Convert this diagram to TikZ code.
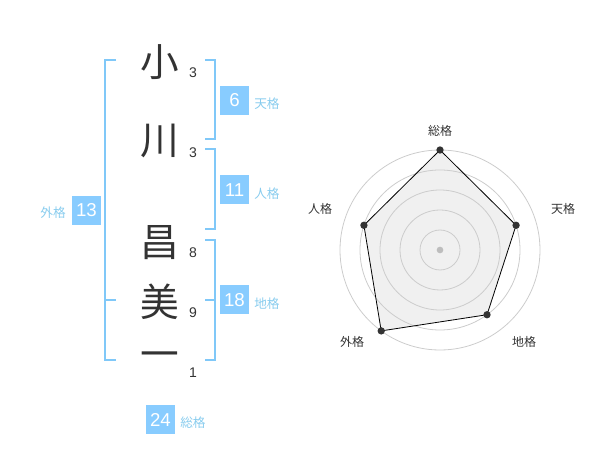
\documentclass[tikz,border=0pt]{standalone}
\usepackage{fontspec}
\usetikzlibrary{calc}
\setmainfont{Liberation Sans}
\newfontfamily\cjk{Noto Sans CJK JP}
\definecolor{brk}{HTML}{80C8F8}
\definecolor{boxc}{HTML}{88CCFF}
\definecolor{lbl}{HTML}{88CCEE}
\definecolor{ink}{HTML}{333333}
\definecolor{ring}{HTML}{CCCCCC}
\definecolor{area}{HTML}{F0F0F0}
\begin{document}
\begin{tikzpicture}[x=0.75pt,y=-0.75pt,
  kanji/.style={font=\cjk\fontsize{29pt}{29pt}\selectfont,text=ink,inner sep=0pt},
  strokes/.style={font=\fontsize{10.5pt}{10.5pt}\selectfont,text=ink,inner sep=0pt},
  valbox/.style={fill=boxc,text=white,minimum width=21.75pt,minimum height=21.75pt,inner sep=0pt,font=\fontsize{14pt}{14pt}\selectfont},
  kaku/.style={font=\cjk\fontsize{9.5pt}{9.5pt}\selectfont,text=lbl,inner sep=0pt},
  bracket/.style={draw=brk,line width=1.5pt},
  radlbl/.style={font=\cjk\fontsize{9pt}{9pt}\selectfont,text=ink,inner sep=0pt},
  dot/.style={circle,fill=ink,inner sep=0pt,minimum size=5.5pt},
  ringline/.style={draw=ring,line width=0.6pt}]
\useasboundingbox (0,0) rectangle (600,470);
% characters
\node[kanji] (k1) at (160,62) {小};
\node[kanji] (k2) at (160,141) {川};
\node[kanji] (k3) at (160,243) {昌};
\node[kanji] (k4) at (160,302) {美};
\node[kanji] (k5) at (160,360) {一};
\node[strokes] (s1) at (193,73) {3};
\node[strokes] (s2) at (193,153) {3};
\node[strokes] (s3) at (193,253) {8};
\node[strokes] (s4) at (193,313) {9};
\node[strokes] (s5) at (193,373) {1};
% brackets
\draw[bracket] (116,60) -- (105,60) -- (105,360) -- (116,360);
\draw[bracket] (105,300) -- (116,300);
\draw[bracket] (205,60) -- (214.5,60) -- (214.5,139.5) -- (205,139.5);
\draw[bracket] (205,149.5) -- (214.5,149.5) -- (214.5,229.5) -- (205,229.5);
\draw[bracket] (205,240) -- (214.5,240) -- (214.5,360) -- (205,360);
\draw[bracket] (205,300) -- (214.5,300);
% value boxes
\node[valbox] (b6) at (234.5,100.5) {6};
\node[kaku,anchor=west] (t6) at (254,104) {{天格}};
\node[valbox] (b11) at (234.5,190) {11};
\node[kaku,anchor=west] (t11) at (254,194) {{人格}};
\node[valbox] (b18) at (234.5,300) {18};
\node[kaku,anchor=west] (t18) at (254,304) {{地格}};
\node[valbox] (b13) at (86.5,210.5) {13};
\node[kaku,anchor=east] (t13) at (66,213) {{外格}};
\node[valbox] (b24) at (160.5,419.5) {24};
\node[kaku,anchor=west] (t24) at (180,422.5) {{総格}};
% radar
\coordinate (c) at (440,250);
\coordinate (p1) at ($(c)+(-90:100)$);
\coordinate (p2) at ($(c)+(-18:80)$);
\coordinate (p3) at ($(c)+(54:80)$);
\coordinate (p4) at ($(c)+(126:100)$);
\coordinate (p5) at ($(c)+(198:80)$);
\fill[area] (p1) -- (p2) -- (p3) -- (p4) -- (p5) -- cycle;
\foreach \r in {20,40,60,80,100} \draw[ringline] (c) circle[radius=\r*0.75pt];
\draw[black,line width=0.6pt,line join=round] (p1) -- (p2) -- (p3) -- (p4) -- (p5) -- cycle;
\fill[ring!80!gray] (c) circle[radius=2.5pt];
\foreach \p in {p1,p2,p3,p4,p5} \node[dot] at (\p) {};
\node[radlbl] (r1) at (440,130.5) {総格};
\node[radlbl] (r2) at (563,208.5) {天格};
\node[radlbl] (r3) at (524,341.5) {地格};
\node[radlbl] (r4) at (352,341.5) {外格};
\node[radlbl] (r5) at (320,208.5) {人格};
\end{tikzpicture}
\end{document}
